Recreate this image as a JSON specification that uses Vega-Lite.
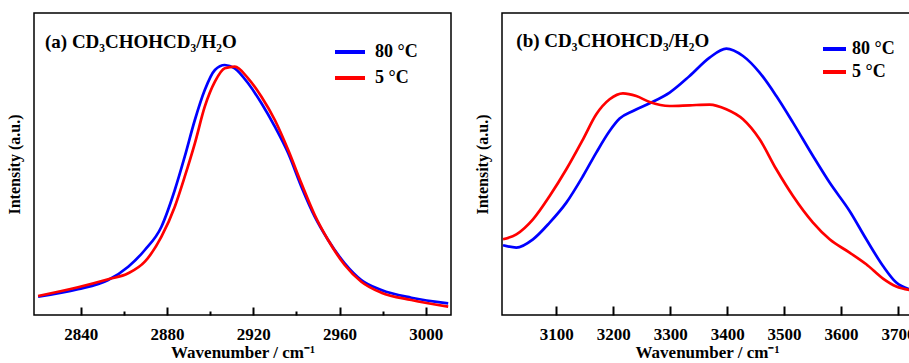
{
 "$schema": "https://vega.github.io/schema/vega-lite/v6.json",
 "padding": {"left": 5, "top": 12, "right": 0, "bottom": 0},
 "config": {
  "font": "Liberation Serif",
  "view": {"stroke": "black", "strokeWidth": 1.5},
  "axis": {"labelFont": "Liberation Serif", "titleFont": "Liberation Serif", "labelFontWeight": "bold", "titleFontWeight": "bold", "labelFontSize": 17, "titleFontSize": 17, "labelColor": "black", "titleColor": "black", "grid": false, "domain": false, "tickColor": "black", "tickWidth": 2},
  "legend": {"orient": "none", "symbolType": "stroke", "symbolStrokeWidth": 4, "labelFont": "Liberation Serif", "labelFontWeight": "bold", "labelFontSize": 18, "labelColor": "black", "padding": 0, "title": null},
  "concat": {"spacing": 18}
 },
 "datasets": {
  "a": [
   {"series": "80 °C", "wn": 2820.2, "I": 18.3}, {"series": "80 °C", "wn": 2838.7, "I": 25.7}, {"series": "80 °C", "wn": 2852.7, "I": 35}, {"series": "80 °C", "wn": 2862, "I": 48.3}, {"series": "80 °C", "wn": 2869.7, "I": 65}, {"series": "80 °C", "wn": 2877.4, "I": 88.3}, {"series": "80 °C", "wn": 2883.6, "I": 125}, {"series": "80 °C", "wn": 2888.2, "I": 158.3}, {"series": "80 °C", "wn": 2892.9, "I": 195}, {"series": "80 °C", "wn": 2897.5, "I": 225}, {"series": "80 °C", "wn": 2902.2, "I": 245}, {"series": "80 °C", "wn": 2906.8, "I": 250}, {"series": "80 °C", "wn": 2911.4, "I": 246.7}, {"series": "80 °C", "wn": 2917.6, "I": 231.7}, {"series": "80 °C", "wn": 2923.8, "I": 211.7}, {"series": "80 °C", "wn": 2930, "I": 188.3}, {"series": "80 °C", "wn": 2936.2, "I": 161.7}, {"series": "80 °C", "wn": 2942.3, "I": 128.3}, {"series": "80 °C", "wn": 2948.5, "I": 98.3}, {"series": "80 °C", "wn": 2954.7, "I": 75}, {"series": "80 °C", "wn": 2962.4, "I": 51.7}, {"series": "80 °C", "wn": 2970.1, "I": 35}, {"series": "80 °C", "wn": 2979.4, "I": 25}, {"series": "80 °C", "wn": 2993.3, "I": 17.3}, {"series": "80 °C", "wn": 3010.4, "I": 11.7},
   {"series": "5 °C", "wn": 2820.2, "I": 19}, {"series": "5 °C", "wn": 2838.7, "I": 27.7}, {"series": "5 °C", "wn": 2852.7, "I": 35.7}, {"series": "5 °C", "wn": 2862, "I": 41.7}, {"series": "5 °C", "wn": 2869.7, "I": 53.3}, {"series": "5 °C", "wn": 2877.4, "I": 78.3}, {"series": "5 °C", "wn": 2883.6, "I": 108.3}, {"series": "5 °C", "wn": 2888.2, "I": 138.3}, {"series": "5 °C", "wn": 2892.9, "I": 171.7}, {"series": "5 °C", "wn": 2897.5, "I": 208.3}, {"series": "5 °C", "wn": 2902.2, "I": 233.3}, {"series": "5 °C", "wn": 2906.8, "I": 246.7}, {"series": "5 °C", "wn": 2911.4, "I": 248.3}, {"series": "5 °C", "wn": 2917.6, "I": 236.7}, {"series": "5 °C", "wn": 2923.8, "I": 218.3}, {"series": "5 °C", "wn": 2930, "I": 195}, {"series": "5 °C", "wn": 2936.2, "I": 165}, {"series": "5 °C", "wn": 2942.3, "I": 131.7}, {"series": "5 °C", "wn": 2948.5, "I": 100}, {"series": "5 °C", "wn": 2954.7, "I": 75}, {"series": "5 °C", "wn": 2962.4, "I": 50}, {"series": "5 °C", "wn": 2970.1, "I": 33.3}, {"series": "5 °C", "wn": 2979.4, "I": 22.3}, {"series": "5 °C", "wn": 2993.3, "I": 15}, {"series": "5 °C", "wn": 3010.4, "I": 8.3}
  ],
  "b": [
   {"series": "80 °C", "wn": 3006.4, "I": 69.7}, {"series": "80 °C", "wn": 3029.8, "I": 67.4}, {"series": "80 °C", "wn": 3059, "I": 75.7}, {"series": "80 °C", "wn": 3088.3, "I": 92.4}, {"series": "80 °C", "wn": 3117.6, "I": 112.4}, {"series": "80 °C", "wn": 3146.9, "I": 139}, {"series": "80 °C", "wn": 3170.2, "I": 162.4}, {"series": "80 °C", "wn": 3193.6, "I": 184}, {"series": "80 °C", "wn": 3211.2, "I": 196.4}, {"series": "80 °C", "wn": 3234.7, "I": 204}, {"series": "80 °C", "wn": 3263.9, "I": 211.7}, {"series": "80 °C", "wn": 3299, "I": 222.4}, {"series": "80 °C", "wn": 3334.1, "I": 239}, {"series": "80 °C", "wn": 3369.2, "I": 257.4}, {"series": "80 °C", "wn": 3398.6, "I": 266.4}, {"series": "80 °C", "wn": 3427.9, "I": 259}, {"series": "80 °C", "wn": 3457.1, "I": 242.4}, {"series": "80 °C", "wn": 3486.4, "I": 219}, {"series": "80 °C", "wn": 3515.7, "I": 192.4}, {"series": "80 °C", "wn": 3550.8, "I": 159}, {"series": "80 °C", "wn": 3580, "I": 132.4}, {"series": "80 °C", "wn": 3615.1, "I": 104}, {"series": "80 °C", "wn": 3644.4, "I": 75.7}, {"series": "80 °C", "wn": 3673.8, "I": 49}, {"series": "80 °C", "wn": 3697.1, "I": 32.4}, {"series": "80 °C", "wn": 3720.5, "I": 25.7},
   {"series": "5 °C", "wn": 3006.4, "I": 75.7}, {"series": "5 °C", "wn": 3029.8, "I": 80.7}, {"series": "5 °C", "wn": 3059, "I": 95.7}, {"series": "5 °C", "wn": 3088.3, "I": 119}, {"series": "5 °C", "wn": 3117.6, "I": 145.7}, {"series": "5 °C", "wn": 3146.9, "I": 175.7}, {"series": "5 °C", "wn": 3170.2, "I": 200.7}, {"series": "5 °C", "wn": 3193.6, "I": 215.7}, {"series": "5 °C", "wn": 3217.1, "I": 221.7}, {"series": "5 °C", "wn": 3240.5, "I": 219}, {"series": "5 °C", "wn": 3263.9, "I": 213}, {"series": "5 °C", "wn": 3299, "I": 209}, {"series": "5 °C", "wn": 3334.1, "I": 209.7}, {"series": "5 °C", "wn": 3369.2, "I": 210.4}, {"series": "5 °C", "wn": 3398.6, "I": 205.7}, {"series": "5 °C", "wn": 3427.9, "I": 195.7}, {"series": "5 °C", "wn": 3457.1, "I": 175.7}, {"series": "5 °C", "wn": 3486.4, "I": 145.7}, {"series": "5 °C", "wn": 3515.7, "I": 119}, {"series": "5 °C", "wn": 3550.8, "I": 92.4}, {"series": "5 °C", "wn": 3580, "I": 75.7}, {"series": "5 °C", "wn": 3615.1, "I": 62.4}, {"series": "5 °C", "wn": 3644.4, "I": 50.7}, {"series": "5 °C", "wn": 3673.8, "I": 36.4}, {"series": "5 °C", "wn": 3697.1, "I": 28.4}, {"series": "5 °C", "wn": 3720.5, "I": 25}
  ]
 },
 "hconcat": [
  {
   "width": 417, "height": 302,
   "layer": [
    {
     "data": {"name": "a"},
     "mark": {"type": "line", "strokeWidth": 2.7, "interpolate": "monotone"},
     "encoding": {
      "x": {"field": "wn", "type": "quantitative", "scale": {"domain": [2818.3, 3011.7], "nice": false, "zero": false},
            "axis": {"title": "Wavenumber / cm⁻¹", "values": [2840, 2860, 2880, 2900, 2920, 2940, 2960, 2980, 3000], "format": "d",
                     "labelExpr": "datum.value % 40 == 0 ? datum.label : ''",
                     "tickSize": {"condition": {"test": "datum.value % 40 == 0", "value": -8}, "value": -4},
                     "labelPadding": 19, "titlePadding": 2}},
      "y": {"field": "I", "type": "quantitative", "scale": {"domain": [0, 302], "nice": false},
            "axis": {"title": "Intensity (a.u.)", "labels": false, "ticks": false, "titlePadding": 12, "titleFontSize": 16}},
      "color": {"field": "series", "type": "nominal", "scale": {"domain": ["80 °C", "5 °C"], "range": ["#0000ff", "#ff0000"]},
                "legend": {"legendX": 299, "legendY": 22, "symbolSize": 900, "rowPadding": -9, "labelOffset": 8}}
     }
    },
    {
     "data": {"values": [{"label": "(a) CD₃CHOHCD₃/H₂O"}]},
     "mark": {"type": "text", "align": "left", "baseline": "middle", "font": "Liberation Serif", "fontWeight": "bold", "fontSize": 19, "color": "black"},
     "encoding": {"x": {"datum": 2823.4}, "y": {"datum": 273}, "text": {"field": "label"}}
    }
   ]
  },
  {
   "width": 410, "height": 302,
   "layer": [
    {
     "data": {"name": "b"},
     "mark": {"type": "line", "strokeWidth": 2.7, "interpolate": "monotone"},
     "encoding": {
      "x": {"field": "wn", "type": "quantitative", "scale": {"domain": [3004.6, 3724.7], "nice": false, "zero": false},
            "axis": {"title": "Wavenumber / cm⁻¹", "values": [3100, 3200, 3300, 3400, 3500, 3600, 3700], "format": "d",
                     "tickSize": -9, "labelPadding": 20, "titlePadding": 2}},
      "y": {"field": "I", "type": "quantitative", "scale": {"domain": [0, 302], "nice": false},
            "axis": {"title": "Intensity (a.u.)", "labels": false, "ticks": false, "titlePadding": 12, "titleFontSize": 16}},
      "color": {"field": "series", "type": "nominal", "scale": {"domain": ["80 °C", "5 °C"], "range": ["#0000ff", "#ff0000"]},
                "legend": {"legendX": 319, "legendY": 22.5, "symbolSize": 529, "rowPadding": -1, "labelOffset": 4}}
     }
    },
    {
     "data": {"values": [{"label": "(b) CD₃CHOHCD₃/H₂O"}]},
     "mark": {"type": "text", "align": "left", "baseline": "middle", "font": "Liberation Serif", "fontWeight": "bold", "fontSize": 19, "color": "black"},
     "encoding": {"x": {"datum": 3029.8}, "y": {"datum": 274}, "text": {"field": "label"}}
    }
   ]
  }
 ],
 "resolve": {"scale": {"color": "independent", "x": "independent", "y": "independent"}}
}
